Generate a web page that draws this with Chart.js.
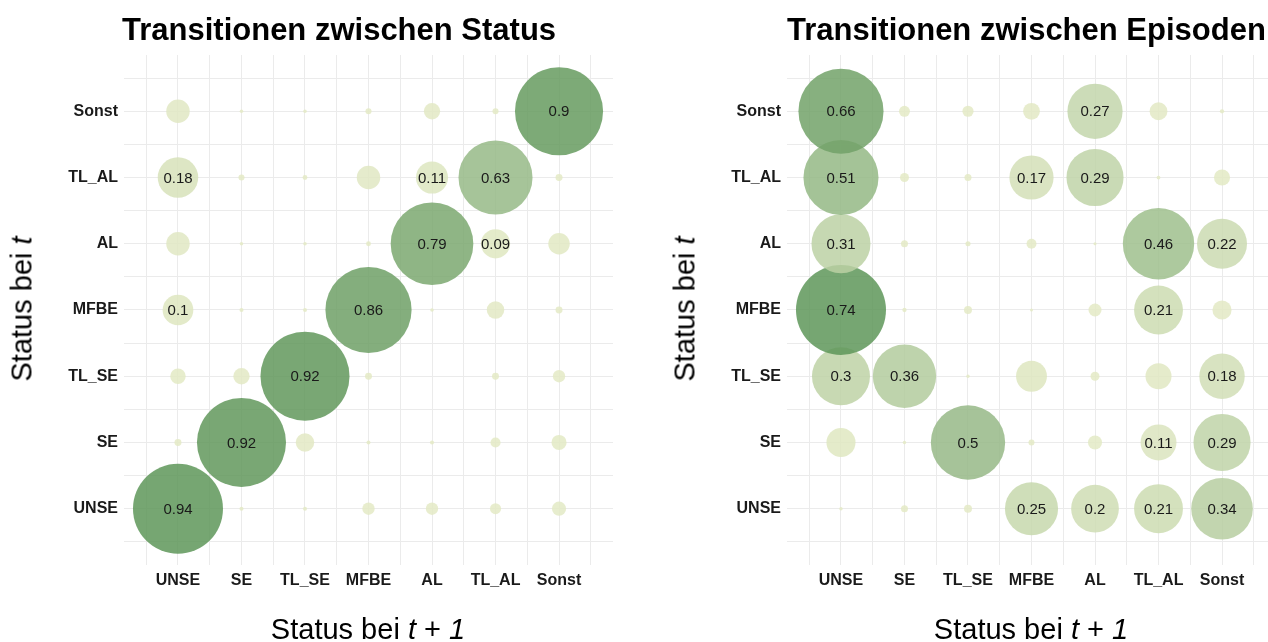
<!DOCTYPE html>
<html>
<head>
<meta charset="utf-8">
<script src="https://cdn.jsdelivr.net/npm/chart.js@4.4.1/dist/chart.umd.min.js"></script>
<style>
  html, body { margin: 0; padding: 0; background: #fff; overflow: hidden; }
  #wrap { position: relative; width: 1268px; height: 642px; overflow: hidden;
          font-family: "Liberation Sans", Arial, sans-serif; color: #000; }
  canvas { position: absolute; top: 0; }
  .title { position: absolute; top: 14px; font-size: 31px; font-weight: bold; line-height: 1; white-space: nowrap; }
  .xt { position: absolute; top: 615px; font-size: 29px; line-height: 1; white-space: nowrap; transform: translateX(-50%); }
  .yt { position: absolute; top: 309px; font-size: 29px; line-height: 1; white-space: nowrap;
        transform: translate(-50%, -50%) rotate(-90deg); }
</style>
</head>
<body>
<div id="wrap">
  <canvas id="left" width="640" height="642" style="left:0"></canvas>
  <canvas id="right" width="640" height="642" style="left:640px"></canvas>
  <div class="title" style="left:122px">Transitionen zwischen Status</div>
  <div class="title" style="left:787px">Transitionen zwischen Episoden</div>
  <div class="yt" style="left:22px">Status bei <i>t</i></div>
  <div class="yt" style="left:685px">Status bei <i>t</i></div>
  <div class="xt" style="left:368px">Status bei <i>t</i> + <i>1</i></div>
  <div class="xt" style="left:1031px">Status bei <i>t</i> + <i>1</i></div>
</div>
<script>
// states, bottom-to-top on y and left-to-right on x
const categories = ['UNSE', 'SE', 'TL_SE', 'MFBE', 'AL', 'TL_AL', 'Sonst'];

// rows: status at t (same order as categories), columns: status at t + 1
const statusTransitions = [
  [0.94,   0.0005, 0.0005, 0.013,  0.013,  0.01,  0.018],
  [0.003,  0.92,   0.033,  0.0005, 0.0005, 0.008, 0.021],
  [0.022,  0.025,  0.92,   0.003,  0,      0.003, 0.013],
  [0.1,    0.0005, 0.0005, 0.86,   0.0003, 0.029, 0.003],
  [0.056,  0.0003, 0.0003, 0.001,  0.79,   0.09,  0.046],
  [0.18,   0.002,  0.001,  0.056,  0.11,   0.63,  0.003],
  [0.056,  0.0003, 0.0003, 0.002,  0.025,  0.002, 0.9]
];

const episodeTransitions = [
  [0.0002, 0.0024, 0.0034, 0.25,   0.2,    0.21,   0.34],
  [0.07,   0.0002, 0.5,    0.0015, 0.014,  0.11,   0.29],
  [0.3,    0.36,   0.0002, 0.08,   0.0047, 0.055,  0.18],
  [0.74,   0.0005, 0.0034, 0.0001, 0.0115, 0.21,   0.028],
  [0.31,   0.0024, 0.0009, 0.006,  0.0001, 0.46,   0.22],
  [0.51,   0.0047, 0.0024, 0.17,   0.29,   0.0003, 0.019],
  [0.66,   0.0077, 0.008,  0.021,  0.27,   0.024,  0.0005]
];

const FONT = '"Liberation Sans", Arial, sans-serif';
const LOW = [228, 234, 197];
const HIGH = [94, 150, 89];

// size scale like ggplot's area palette: radius grows with sqrt of value
function radiusOf(v, vmax) {
  return 1 + 44 * Math.sqrt(v / vmax);
}

function colorOf(v, vmax) {
  const t = Math.pow(v / vmax, 1.4);
  const c = LOW.map((lo, i) => Math.round(lo + (HIGH[i] - lo) * t));
  return 'rgba(' + c.join(',') + ',0.85)';
}

function toPoints(matrix) {
  const pts = [];
  matrix.forEach((row, y) => {
    row.forEach((v, x) => {
      if (v > 0) pts.push({ x: x, y: y, v: v });
    });
  });
  return pts;
}

const gridSteps = categories.flatMap((c, i) => [i - 0.5, i]).concat([categories.length - 0.5]);

const valueLabels = {
  id: 'valueLabels',
  afterDatasetsDraw(chart) {
    const ctx = chart.ctx;
    const ds = chart.data.datasets[0];
    const meta = chart.getDatasetMeta(0);
    ctx.save();
    ctx.font = '15px ' + FONT;
    ctx.fillStyle = '#1a1a1a';
    ctx.textAlign = 'center';
    ctx.textBaseline = 'middle';
    meta.data.forEach((el, i) => {
      const v = ds.data[i].v;
      if (v >= 0.09) ctx.fillText(String(+v.toFixed(2)), el.x, el.y + 1);
    });
    ctx.restore();
  }
};

function axis(pos, size) {
  return {
    type: 'linear',
    position: pos,
    min: -0.85,
    max: 6.85,
    afterBuildTicks: s => { s.ticks = gridSteps.map(v => ({ value: v })); },
    afterFit: s => {
      if (pos === 'left') s.width = size; else s.height = size;
      s.paddingLeft = 0; s.paddingRight = 0; s.paddingTop = 0; s.paddingBottom = 0;
    },
    grid: { color: '#ebebeb', lineWidth: 1, drawTicks: false },
    border: { display: false },
    ticks: {
      autoSkip: false,
      maxRotation: 0,
      padding: pos === 'left' ? 6 : 6,
      color: '#1a1a1a',
      font: { family: FONT, size: 16, weight: 'bold' },
      callback: v => Number.isInteger(v) ? categories[v] : ''
    }
  };
}

function makeChart(id, matrix, yWidth, rightPad) {
  let vmax = 0;
  matrix.forEach(r => r.forEach(v => { if (v > vmax) vmax = v; }));
  const pts = toPoints(matrix).map(p => ({ x: p.x, y: p.y, v: p.v, r: radiusOf(p.v, vmax) }));
  new Chart(document.getElementById(id), {
    type: 'bubble',
    data: {
      datasets: [{
        data: pts,
        backgroundColor: ctx => colorOf(ctx.raw.v, vmax),
        borderWidth: 0,
        hoverRadius: 0
      }]
    },
    options: {
      responsive: false,
      animation: false,
      clip: false,
      layout: { autoPadding: false, padding: { left: 0, right: rightPad, top: 55, bottom: 47 } },
      plugins: { legend: { display: false }, tooltip: { enabled: false } },
      scales: {
        x: axis('bottom', 30),
        y: axis('left', yWidth)
      }
    },
    plugins: [valueLabels]
  });
}

makeChart('left', statusTransitions, 124, 27);
makeChart('right', episodeTransitions, 147, 4);
</script>
</body>
</html>
